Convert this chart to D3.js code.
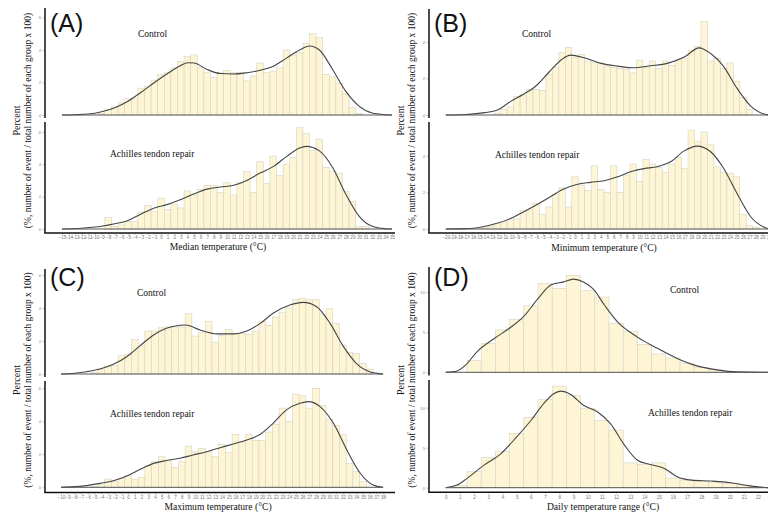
<!DOCTYPE html>
<html><head><meta charset="utf-8">
<script src="https://cdn.jsdelivr.net/npm/d3@7"></script>
<style>body{margin:0;background:#fff}svg{display:block}</style>
</head><body><svg id="c" width="768" height="514"></svg>
<script>
// ---------- DATA ----------
const groups = ["Control", "Achilles tendon repair"];
const panelLabels = ["(A)", "(B)", "(C)", "(D)"];
const xTitles = ["Median temperature (°C)", "Minimum temperature (°C)", "Maximum temperature (°C)", "Daily temperature range (°C)"];
const yTitle1 = "Percent";
const yTitle2 = "(%, number of event / total number of each group x 100)";

const medianTicks = d3.range(-15, 36);
const minimumTicks = d3.range(-20, 31);
const maximumTicks = d3.range(-10, 39);
const dtrTicks = d3.range(0, 23);
const yTicksPct = [0, 2, 4, 6];
const yTicksPctB = [0, 2, 4];
const yTicksDtr = [0, 5, 10];

// histogram bins: first bin centre + percent per 1-degree bin
const medianCtrlStart = -9;
const medianCtrl = [0.1,0.35,0.5,0.75,1.0,1.0,1.65,1.75,2.15,2.5,2.6,2.9,3.3,3.6,3.7,2.9,2.6,2.3,2.6,2.75,2.6,2.6,2.1,2.4,3.2,2.6,2.7,2.9,4.0,3.7,3.85,4.4,5.0,4.75,2.5,2.35,1.95,1.3,0.45,0.1];
const medianAtrStart = -8;
const medianAtr = [0.7,0.15,0.25,0.45,0.45,1.05,1.45,1.1,1.9,1.2,1.55,1.3,2.35,2.1,2.45,2.7,2.7,2.25,2.85,2.1,2.85,3.55,2.25,4.15,2.8,4.5,3.3,4.0,4.4,6.25,5.9,4.85,5.55,3.8,3.55,3.45,2.3,1.7,0.15,0.15];

const minimumCtrlStart = -12;
const minimumCtrl = [0.1,0.3,0.45,1.0,1.1,1.4,1.4,1.35,2.2,2.6,3.4,3.7,3.15,3.3,2.95,2.85,2.85,2.65,2.6,2.55,2.5,2.3,3.0,2.6,2.95,2.55,2.95,2.7,3.05,3.1,3.55,3.75,5.1,2.95,3.1,2.55,2.85,1.85,0.95,0.3];
const minimumAtrStart = -14;
const minimumAtr = [0.05,0.15,0.3,0.4,0.5,0.55,1.0,1.05,1.4,0.8,1.2,1.9,2.25,1.2,2.85,2.4,2.1,3.45,2.15,2.0,3.45,2.0,2.95,3.55,2.6,3.8,3.55,3.35,3.1,3.55,3.9,3.3,5.4,4.8,5.3,4.6,3.4,3.1,3.05,2.85,0.8,0.2,0.1];

const maximumCtrlStart = -5;
const maximumCtrl = [0.1,0.3,0.45,0.5,1.1,1.2,2.1,1.7,2.6,2.6,2.8,2.85,2.85,2.85,3.65,2.3,2.5,3.2,1.9,2.35,2.7,2.45,2.45,2.4,2.6,3.2,2.95,3.45,3.75,4.0,4.5,4.6,4.5,4.5,3.6,3.95,3.05,1.75,1.3,1.25,0.65,0.3];
const maximumAtrStart = -5;
const maximumAtr = [0.05,0.15,0.5,0.35,0.55,0.7,0.5,0.6,1.3,1.55,1.85,1.6,1.2,1.55,2.5,2.15,2.35,2.15,1.85,2.6,2.1,3.2,2.75,3.2,2.85,2.85,3.35,3.8,4.8,4.0,5.65,5.55,4.8,6.0,4.95,4.1,3.75,3.2,1.45,0.95,0.35];

const dtrCtrlStart = 2;
const dtrCtrl = [1.45,3.6,5.3,6.6,8.3,11.1,10.5,12.1,10.2,9.4,6.1,5.1,3.5,2.3,1.8,1.15,0.6,0.3,0.1];
const dtrAtrStart = 1;
const dtrAtr = [0.3,2.0,3.8,4.5,6.8,8.8,11.0,12.7,11.5,9.9,8.4,7.2,3.1,2.9,3.1,1.2,0.95,0.85,0.65,0.55,0.35];

// density curves [temperature, percent]
const medianCtrlDens = [[-15,0],[-13,0.02],[-11,0.06],[-9,0.2],[-7,0.45],[-5,0.85],[-3,1.4],[-1,2.0],[1,2.55],[3,3.05],[4,3.22],[5,3.2],[7,2.8],[9,2.55],[11,2.52],[13,2.6],[15,2.75],[17,3.0],[19,3.5],[21,4.0],[22.5,4.25],[24,4.0],[26,2.8],[28,1.45],[30,0.55],[32,0.12],[34,0.02],[35,0]];
const medianAtrDens = [[-15,0],[-12,0.05],[-10,0.12],[-9,0.17],[-7,0.32],[-5,0.53],[-3,0.93],[-1,1.3],[1,1.52],[3,1.82],[5,2.17],[7,2.46],[9,2.59],[11,2.7],[13,3.0],[15,3.45],[17,3.85],[19,4.47],[21,5.0],[22,5.1],[24,4.82],[26,3.8],[28,2.15],[30,0.8],[32,0.17],[34,0.02],[35,0]];
const minimumCtrlDens = [[-20,0],[-17,0.03],[-14,0.13],[-12,0.27],[-10,0.73],[-8,1.13],[-6,1.6],[-4,2.35],[-2,3.05],[-0.7,3.27],[1.4,3.13],[4,2.82],[6.6,2.67],[9,2.58],[11.7,2.69],[14.3,2.82],[17,3.18],[19.2,3.67],[21,3.36],[23,2.66],[25,1.5],[27.2,0.49],[29.3,0.05],[30,0]];
const minimumAtrDens = [[-20,0],[-17,0.02],[-15,0.07],[-12.5,0.27],[-10,0.57],[-8,0.93],[-6,1.31],[-4,1.72],[-2,2.15],[0.4,2.45],[2.4,2.55],[4.5,2.64],[6.6,2.85],[8.6,3.13],[10.7,3.3],[12.7,3.4],[14.8,3.67],[16.9,4.27],[18.9,4.53],[21,4.22],[23,3.32],[25,2.0],[27.2,0.67],[29.3,0.09],[30,0]];
const maximumCtrlDens = [[-10,0],[-8,0.05],[-6.2,0.14],[-4.2,0.3],[-2.2,0.59],[-0.2,1.05],[1.8,1.72],[3.8,2.36],[5.7,2.77],[7.7,2.95],[8.6,2.97],[10.7,2.67],[13.2,2.43],[15.7,2.43],[17.7,2.6],[19.7,3.07],[21.6,3.68],[24.1,4.18],[26.1,4.34],[28.1,4.08],[30.1,3.07],[32.1,1.66],[34,0.65],[36,0.14],[38,0]];
const maximumAtrDens = [[-10,0],[-8,0.04],[-6.2,0.1],[-4.2,0.24],[-2.2,0.4],[-0.2,0.69],[1.8,1.09],[3.8,1.45],[5.7,1.62],[7.7,1.76],[9.7,1.96],[11.7,2.16],[13.7,2.4],[15.7,2.63],[17.7,2.87],[19.7,3.21],[21.6,3.88],[23.6,4.69],[25.6,5.09],[26.9,5.19],[28.6,4.89],[30.6,3.88],[32.6,2.26],[34.6,0.85],[36.5,0.14],[38,0]];
const dtrCtrlDens = [[0,0],[0.8,0.16],[1.4,0.9],[2.2,2.56],[3.4,4.2],[4.6,5.66],[5.5,7.0],[6.5,9.2],[7.4,10.9],[8.3,11.3],[9.0,11.65],[9.7,11.3],[10.4,10.4],[11.2,8.35],[12.1,6.3],[13.5,4.4],[14.9,3.0],[16.3,1.74],[17.7,0.8],[19.1,0.3],[20.5,0.05],[22.7,0]];
const dtrAtrDens = [[0,0],[0.8,0.33],[1.5,1.16],[2.7,2.82],[3.9,4.27],[5.0,6.35],[6.0,8.4],[6.9,10.5],[7.6,11.74],[8.1,12.07],[8.8,11.66],[9.7,10.3],[10.7,9.46],[11.6,8.0],[12.6,5.3],[13.5,3.44],[14.4,2.9],[15.4,2.4],[16.3,1.37],[17.3,0.95],[18.7,0.83],[20.1,0.62],[21.5,0.2],[22.7,0]];

// ---------- LAYOUT ----------
const SERIF = "'Liberation Serif','Times New Roman',serif";
const SANS = "'Liberation Sans',Arial,sans-serif";
const panels = [
  {label:0, ax:45, xDomain:[-15,35], xRange:[62,392], xEnd:395, ticks:medianTicks, yTicks:yTicksPct, axisY:233, tickY:239.8,
   title:0, titleX:218, titleY:249.5, yMid:120.5, lx:50, ly:31.5,
   subs:[{start:medianCtrlStart, vals:medianCtrl, dens:medianCtrlDens, y0:115, ppu:16.25, aTop:8, aBot:118, tx:138, ty:37},
         {start:medianAtrStart, vals:medianAtr, dens:medianAtrDens, y0:229, ppu:16.2, aTop:122, aBot:233, tx:110, ty:156.5}]},
  {label:1, ax:429, xDomain:[-20,30], xRange:[445.8,768.8], xEnd:770, ticks:minimumTicks, yTicks:yTicksPctB, axisY:233, tickY:239.8,
   title:1, titleX:604, titleY:250.5, yMid:120.5, lx:434, ly:31.5,
   subs:[{start:minimumCtrlStart, vals:minimumCtrl, dens:minimumCtrlDens, y0:115, ppu:18.3, aTop:9, aBot:118, tx:522, ty:37},
         {start:minimumAtrStart, vals:minimumAtr, dens:minimumAtrDens, y0:229, ppu:18.3, aTop:122, aBot:233, tx:495, ty:158}]},
  {label:2, ax:45, xDomain:[-10,38], xRange:[61,383.1], xEnd:395, ticks:maximumTicks, yTicks:yTicksPct, axisY:492.5, tickY:499,
   title:2, titleX:218, titleY:510, yMid:380, lx:50, ly:286,
   subs:[{start:maximumCtrlStart, vals:maximumCtrl, dens:maximumCtrlDens, y0:374, ppu:16.5, aTop:269, aBot:377, tx:137, ty:296},
         {start:maximumAtrStart, vals:maximumAtr, dens:maximumAtrDens, y0:487.3, ppu:16.5, aTop:381, aBot:492.5, tx:110, ty:416.5}]},
  {label:3, ax:429, xDomain:[0,22], xRange:[445.7,758.1], xEnd:770, ticks:dtrTicks, yTicks:yTicksDtr, axisY:492.3, tickY:499,
   title:3, titleX:603, titleY:510, yMid:380, lx:434, ly:286,
   subs:[{start:dtrCtrlStart, vals:dtrCtrl, dens:dtrCtrlDens, y0:372.3, ppu:8.0, aTop:267, aBot:375.5, tx:670, ty:293},
         {start:dtrAtrStart, vals:dtrAtr, dens:dtrAtrDens, y0:487.7, ppu:8.0, aTop:380, aBot:492.3, tx:648, ty:415.5}]}
];

const svg = d3.select("#c");
svg.append("rect").attr("width",768).attr("height",514).attr("fill","#fff");

panels.forEach(p => {
  const g = svg.append("g");
  const x = d3.scaleLinear().domain(p.xDomain).range(p.xRange);

  p.subs.forEach((s, si) => {
    const yMax = p.yTicks[p.yTicks.length-1];
    const y = d3.scaleLinear().domain([0, yMax]).range([s.y0, s.y0 - yMax*s.ppu]);
    // bars
    g.append("g").selectAll("rect").data(s.vals).join("rect")
      .attr("x", (d,i) => x(s.start + i - 0.5))
      .attr("width", (d,i) => x(s.start + i + 0.5) - x(s.start + i - 0.5))
      .attr("y", d => y(d))
      .attr("height", d => y(0) - y(d))
      .attr("fill", "#fdf5d4")
      .attr("stroke", "#d6d3c6")
      .attr("stroke-width", 0.6);
    // density outline
    const line = d3.line().x(d => x(d[0])).y(d => y(d[1])).curve(d3.curveMonotoneX);
    g.append("path").datum(s.dens).attr("d", line)
      .attr("fill","none").attr("stroke","#454545").attr("stroke-width",1.1);
    const first = s.dens[0][0], last = s.dens[s.dens.length-1][0];
    g.append("line").attr("x1", x(first)).attr("x2", x(last)).attr("y1", y(0)).attr("y2", y(0))
      .attr("stroke","#555").attr("stroke-width",1);
    // y axis
    const ya = g.append("g").attr("transform", `translate(${p.ax},0)`)
      .call(d3.axisLeft(y).tickValues(p.yTicks).tickSize(2.5).tickPadding(1.5).tickFormat(d3.format("d")));
    ya.select(".domain").remove();
    ya.selectAll(".tick line").attr("stroke","#999").attr("stroke-width",0.6);
    ya.selectAll(".tick text").attr("font-size",4.2).attr("fill","#888").attr("font-family",SANS);
    g.append("line").attr("x1",p.ax).attr("x2",p.ax).attr("y1",s.aTop).attr("y2",s.aBot)
      .attr("stroke","#111").attr("stroke-width",1.5);
    // group label
    g.append("text").attr("x", s.tx).attr("y", s.ty).text(groups[si])
      .attr("font-family", SERIF).attr("font-size", 9.5).attr("fill","#111");
  });

  // x axis
  const xa = g.append("g").attr("transform", `translate(0,${p.axisY})`)
    .call(d3.axisBottom(x).tickValues(p.ticks).tickSize(2).tickPadding(1.2).tickFormat(d3.format("d")));
  xa.select(".domain").remove();
  xa.selectAll(".tick line").attr("stroke","#999").attr("stroke-width",0.5);
  xa.selectAll(".tick text").attr("font-size",4.6).attr("fill","#777").attr("font-family",SANS);
  g.append("line").attr("x1",p.ax - 0.75).attr("x2",p.xEnd).attr("y1",p.axisY).attr("y2",p.axisY)
    .attr("stroke","#111").attr("stroke-width",1.5);

  // axis titles
  g.append("text").attr("x", p.titleX).attr("y", p.titleY).attr("text-anchor","middle")
    .text(xTitles[p.title]).attr("font-family",SERIF).attr("font-size",9.6).attr("fill","#111");
  const yx1 = p.ax - 25.5, yx2 = p.ax - 14.5;
  g.append("text").attr("transform",`translate(${yx1},${p.yMid}) rotate(-90)`).attr("text-anchor","middle")
    .text(yTitle1).attr("font-family",SERIF).attr("font-size",10).attr("fill","#111");
  g.append("text").attr("transform",`translate(${yx2},${p.yMid}) rotate(-90)`).attr("text-anchor","middle")
    .text(yTitle2).attr("font-family",SERIF).attr("font-size",9.5).attr("fill","#111");

  // panel label
  g.append("text").attr("x", p.lx).attr("y", p.ly).text(panelLabels[p.label])
    .attr("font-family",SANS).attr("font-size",25).attr("fill","#111");
});
</script></body></html>
